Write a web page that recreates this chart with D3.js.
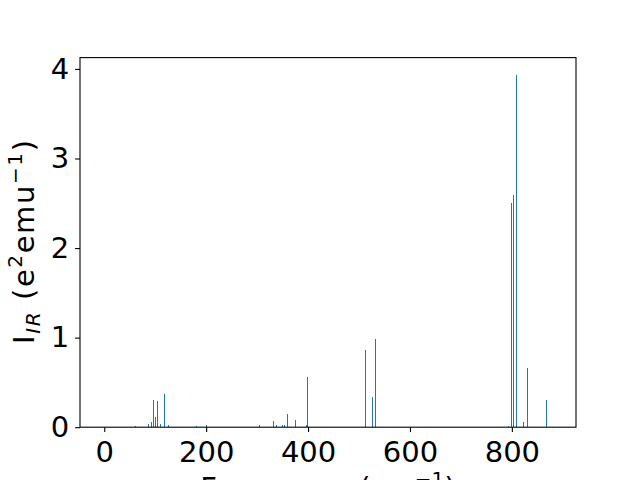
<!DOCTYPE html>
<html lang="en">
<head>
<meta charset="UTF-8" />
<title>IR intensities</title>
<style>
  html, body { margin: 0; padding: 0; background: #fff; overflow: hidden; }
  svg text { font-family: "DejaVu Sans", sans-serif; fill: #000; }
  .axis text { font-size: 29px; }
  .axis path, .axis line { stroke: #000; stroke-width: 1.1px; }
  .bar { fill: #1f77b4; shape-rendering: crispEdges; }
</style>
</head>
<body>
<svg width="640" height="480"></svg>
<script src="https://d3js.org/d3.v7.min.js"></script>
<script>
  // vibrational frequencies (cm^-1) and IR intensities
  const frequencies = [60.8, 86.3, 92.2, 96.1, 100, 103.9, 109.8, 117.6, 125.5, 180.4, 200,
    304, 331.4, 337.3, 349, 353, 358.8, 374.5, 396.9, 398.8, 511.8, 526.3, 533.3,
    794, 800, 803.9, 809.8, 823.5, 831.4, 868.6];
  const intensities = [0.01, 0.04, 0.06, 0.30, 0.115, 0.29, 0.04, 0.37, 0.02, 0.01, 0.02,
    0.02, 0.07, 0.02, 0.03, 0.03, 0.145, 0.08, 0.03, 0.557, 0.857, 0.334, 0.99,
    0.01, 2.50, 2.595, 3.93, 0.063, 0.657, 0.30];
  const xTicks = [0, 200, 400, 600, 800];
  const yTicks = [0, 1, 2, 3, 4];

  const data = frequencies.map((f, i) => ({ f, v: intensities[i] }));

  const svg = d3.select("svg");
  const plotL = 80, plotR = 576, plotT = 57.6, plotB = 427.2;
  const barW = 2;

  const x = d3.scaleLinear().domain([-47.6, 925.9]).range([plotL, plotR]);
  const y = d3.scaleLinear().domain([0, 3.93 * 1.05]).range([plotB, plotT]);

  svg.append("g")
    .selectAll("rect")
    .data(data)
    .join("rect")
    .attr("class", "bar")
    .attr("x", d => Math.round(x(d.f - barW / 2)))
    .attr("width", 1.2)
    .attr("y", d => y(d.v))
    .attr("height", d => y(0) - y(d.v));

  svg.append("rect")
    .attr("x", plotL).attr("y", plotT)
    .attr("width", plotR - plotL).attr("height", plotB - plotT)
    .attr("fill", "none").attr("stroke", "#000").attr("stroke-width", 1.1);

  const xAxis = svg.append("g")
    .attr("class", "axis")
    .attr("transform", `translate(0,${plotB})`)
    .call(d3.axisBottom(x).tickValues(xTicks).tickSize(4.9).tickPadding(9).tickFormat(d3.format("d")));
  xAxis.select(".domain").remove();

  const yAxis = svg.append("g")
    .attr("class", "axis")
    .attr("transform", `translate(${plotL},0)`)
    .call(d3.axisLeft(y).tickValues(yTicks).tickSize(4.9).tickPadding(6).tickFormat(d3.format("d")));
  yAxis.select(".domain").remove();

  // x label (mostly clipped by the bottom edge, as in the original)
  const xl = svg.append("text")
    .attr("x", (plotL + plotR) / 2)
    .attr("y", 498)
    .attr("text-anchor", "middle")
    .attr("font-size", 29);
  xl.append("tspan").text("Frequency (cm");
  xl.append("tspan").attr("font-size", 20).attr("dy", -12).text("−1");
  xl.append("tspan").attr("dy", 12).text(")");

  // y label
  const yl = svg.append("text")
    .attr("transform", "translate(34,242) rotate(-90)")
    .attr("text-anchor", "middle")
    .attr("font-size", 29)
    .attr("textLength", 204)
    .attr("lengthAdjust", "spacing");
  yl.append("tspan").text("I");
  yl.append("tspan").attr("font-size", 20).attr("font-style", "italic").attr("dy", 6).text("IR");
  yl.append("tspan").attr("dy", -6).text(" (e");
  yl.append("tspan").attr("font-size", 20).attr("dy", -12).text("2");
  yl.append("tspan").attr("dy", 12).text("emu");
  yl.append("tspan").attr("font-size", 20).attr("dy", -12).text("−1");
  yl.append("tspan").attr("dy", 12).text(")");
</script>
</body>
</html>
